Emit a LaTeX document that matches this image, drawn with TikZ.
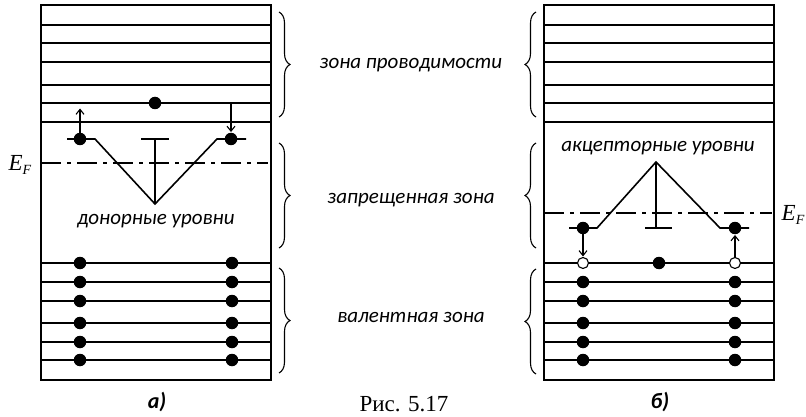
\documentclass[tikz,border=0pt]{standalone}
\usepackage{fontspec}
\setmainfont{Carlito}
\newfontfamily\timesfont{Liberation Serif}
\usetikzlibrary{arrows.meta,decorations.pathreplacing,positioning}

\tikzset{
  level/.style={line width=1.6pt},
  elec/.style={circle,fill=black,inner sep=0pt,minimum size=12.5pt},
  hole/.style={circle,draw=black,fill=white,line width=1.1pt,inner sep=0pt,minimum size=11pt},
  zonebrace/.style={decorate,decoration={brace,amplitude=11pt},line width=1.1pt},
  zonelabel/.style={font=\itshape\fontsize{21}{24}\selectfont},
  panel/.style={font=\bfseries\itshape\fontsize{22}{26}\selectfont},
  fermi/.style={line width=1.5pt,dash pattern=on 20pt off 6pt on 4pt off 6pt},
  jump/.style={-{Straight Barb[length=5pt,width=8pt]},line width=1.1pt,shorten >=0.5pt},
}
\newcommand{\ef}{{\timesfont\itshape\fontsize{23}{26}\selectfont E\raisebox{-0.35ex}{\fontsize{14}{16}\selectfont F}}}

\begin{document}
\begin{tikzpicture}[x=1pt,y=-1pt]
  \useasboundingbox (0,0) rectangle (806,417);

  % panel a): n-type
  \draw[level] (41,5) rectangle (271,380);
  \foreach \y in {25,43,62,85,103,122,263,282,301,323,342,360}
    \draw[level] (41,\y) -- (271,\y);
  \draw[level] (67,139) -- (95,139) -- (155,204) -- (217,139) -- (246,139);
  \draw[level] (141,139) -- (169,139) (155,139) -- (155,204);
  \draw[fermi] (41,163) -- (268,163);
  \node (efa) at (20,165) {\ef};

  \node[elec] (ce) at (155,103) {};
  \node[elec] (dl) at (80,139) {};
  \node[elec] (dr) at (231,139) {};
  \coordinate (up) at (80,108);
  \coordinate (down) at (231,103);
  \draw[jump] (dl) -- (up);
  \draw[jump] (down) -- (dr);
  \foreach \y in {263,282,301,323,342,360} {
    \node[elec] (va\y) at (80,\y) {};
    \node[elec] (vb\y) at (232,\y) {};
  }
  \node[zonelabel] (don) at (156,221) {донорные уровни};
  \node[panel] (pa) at (157,402) {а)};

  % panel b): p-type
  \draw[level] (544,5) rectangle (774,380);
  \foreach \y in {25,43,62,85,103,122,263,282,301,323,342,360}
    \draw[level] (544,\y) -- (774,\y);
  \draw[level] (569,228) -- (597,228) -- (656,162) -- (720,228) -- (749,228);
  \draw[level] (645,228) -- (672,228) (656,162) -- (656,228);
  \draw[fermi] (544,213) -- (772,213);
  \node (efb) at (793,215) {\ef};

  \node[elec] (al) at (583,228) {};
  \node[elec] (ar) at (735,228) {};
  \node[hole] (hl) at (583,263) {};
  \node[hole] (hr) at (735,263) {};
  \node[elec] (ve) at (659,263) {};
  \draw[jump] (al) -- (hl);
  \draw[jump] (hr) -- (ar);
  \foreach \y in {282,301,323,342,360} {
    \node[elec] (vc\y) at (583,\y) {};
    \node[elec] (vd\y) at (735,\y) {};
  }
  \node[zonelabel] (acc) at (658,148) {акцепторные уровни};
  \node[panel] (pb) at (660,402) {б)};

  % zones
  \draw[zonebrace] (279,12) -- (279,117);
  \draw[zonebrace] (279,143) -- (279,248);
  \draw[zonebrace] (279,268) -- (279,373);
  \draw[zonebrace] (536,117) -- (536,12);
  \draw[zonebrace] (536,248) -- (536,143);
  \draw[zonebrace] (536,374) -- (536,269);
  \node[zonelabel] (cb) at (411,65) {зона проводимости};
  \node[zonelabel] (gap) at (411,200) {запрещенная зона};
  \node[zonelabel] (vb) at (411,317) {валентная зона};

  \node[anchor=base,inner sep=0pt,font=\timesfont\fontsize{23}{26}\selectfont] (cap) at (404,411) {Рис. 5.17};
\end{tikzpicture}
\end{document}
